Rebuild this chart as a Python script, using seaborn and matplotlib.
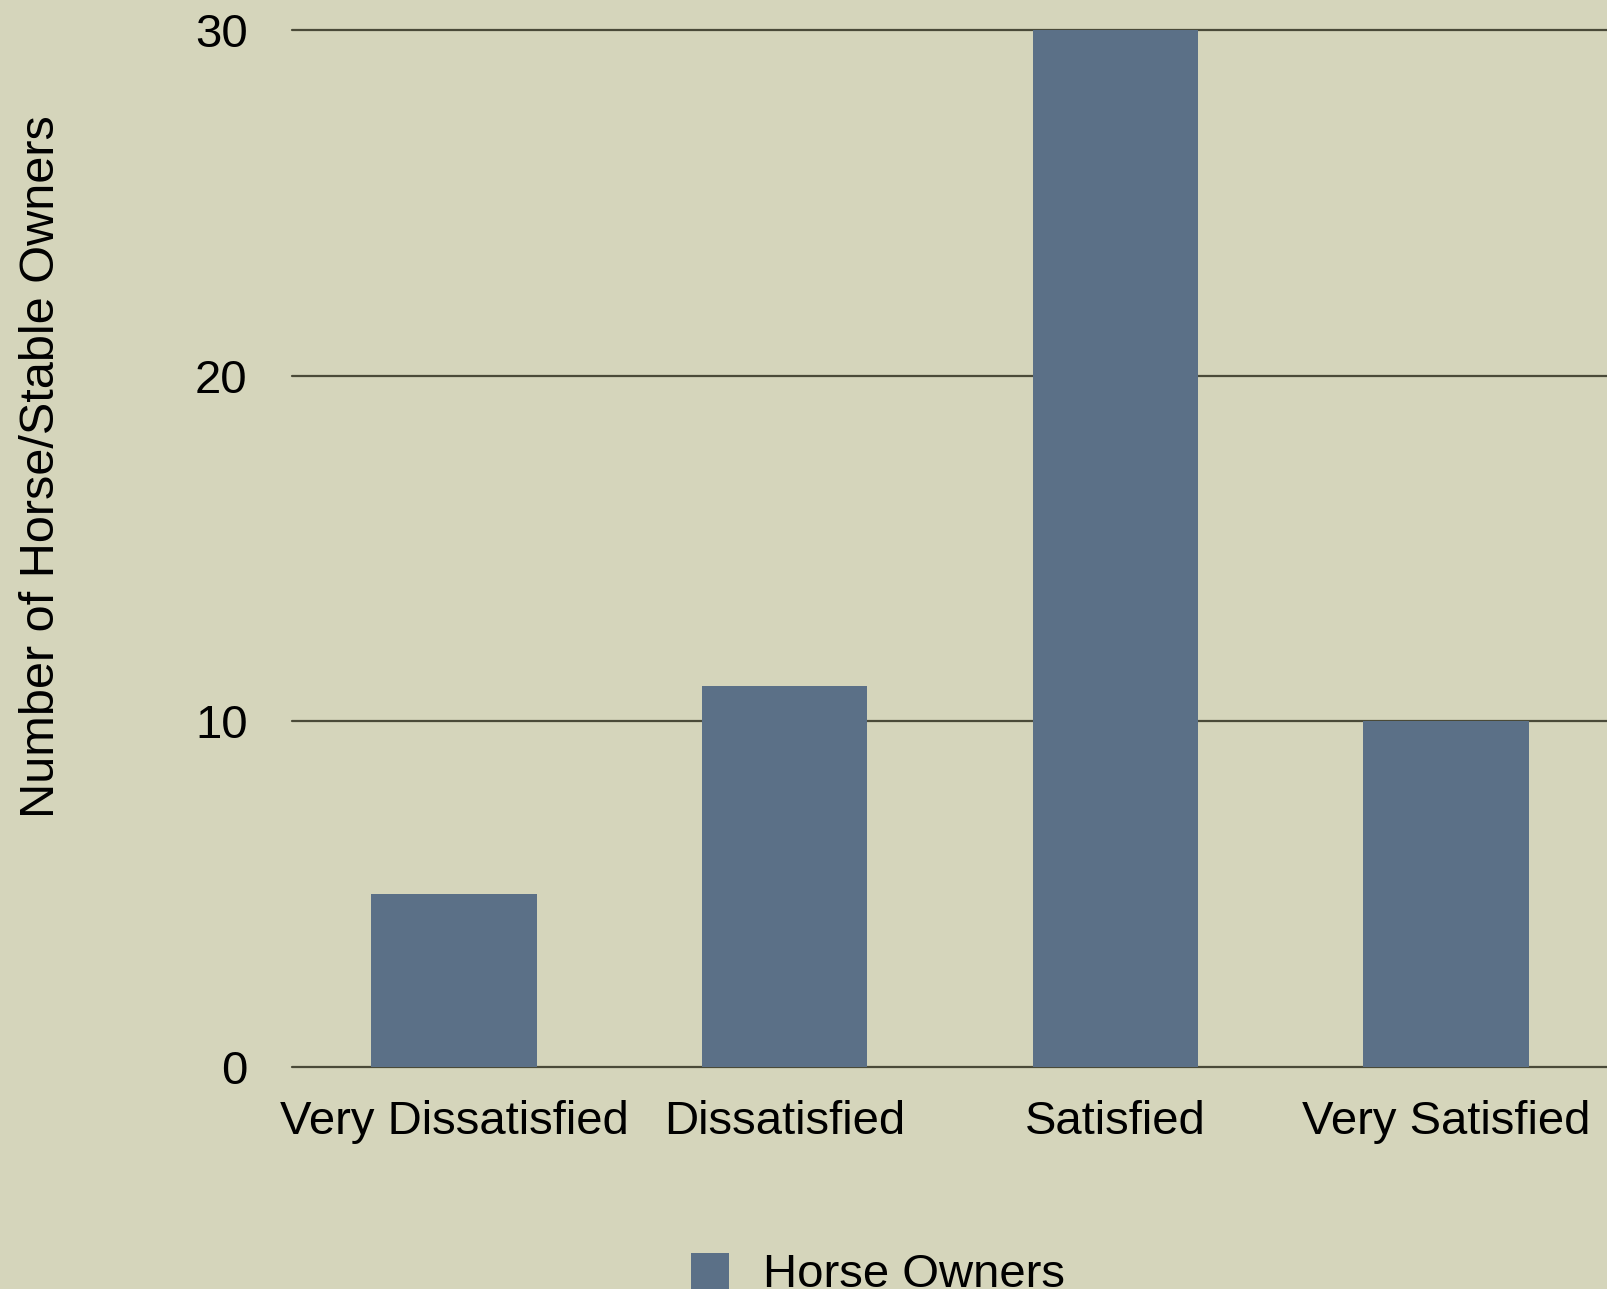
import matplotlib
matplotlib.use('Agg')
import matplotlib.pyplot as plt
import seaborn as sns
import pandas as pd

# ---------------------------------------------------------------
# Data
# ---------------------------------------------------------------
categories = ['Very Dissatisfied', 'Dissatisfied', 'Satisfied', 'Very Satisfied']
horse_owners = [5, 11, 30, 10]
y_ticks = [0, 10, 20, 30]
series_name = 'Horse Owners'

BG = '#d5d5bb'
BAR = '#5b7087'
GRID = '#4a4a38'

sns.set_style('white')
plt.rcParams['font.family'] = ['Liberation Sans', 'DejaVu Sans']
plt.rcParams['text.color'] = 'black'

df = pd.DataFrame({'Satisfaction': categories, 'Count': horse_owners})

fig = plt.figure(figsize=(16.08, 12.89), dpi=100, facecolor=BG)
ax = fig.add_axes([0.1816, 0.1726, 0.8184, 0.8041])
ax.set_facecolor(BG)

for t in y_ticks:
    ax.axhline(t, color=GRID, lw=1.6, zorder=1, clip_on=False)

sns.barplot(data=df, x='Satisfaction', y='Count', color=BAR, width=0.5,
            saturation=1, ax=ax, zorder=2, label=series_name, linewidth=0)
if ax.get_legend() is not None:
    ax.get_legend().remove()

ax.set_xlim(-0.49, 3.49)
ax.set_ylim(0, 30)
ax.set_yticks(y_ticks)
ax.set_xlabel('')
ax.set_ylabel('')
for s in ax.spines.values():
    s.set_visible(False)
ax.tick_params(axis='both', length=0, labelsize=34, colors='black')
ax.tick_params(axis='y', pad=32)
ax.tick_params(axis='x', pad=24)

fig.text(0.026, 0.638, 'Number of Horse/Stable Owners', rotation=90,
         ha='center', va='center', fontsize=35, color='black')

handles, labels = ax.get_legend_handles_labels()
fig.legend(handles, labels, loc='upper left', bbox_to_anchor=(0.430, 0.028),
           frameon=False, fontsize=34, handlelength=0.8, handleheight=0.8,
           handletextpad=0.72, borderaxespad=0, borderpad=0)

plt.savefig('out.png', dpi=100, facecolor=BG)
plt.close()
